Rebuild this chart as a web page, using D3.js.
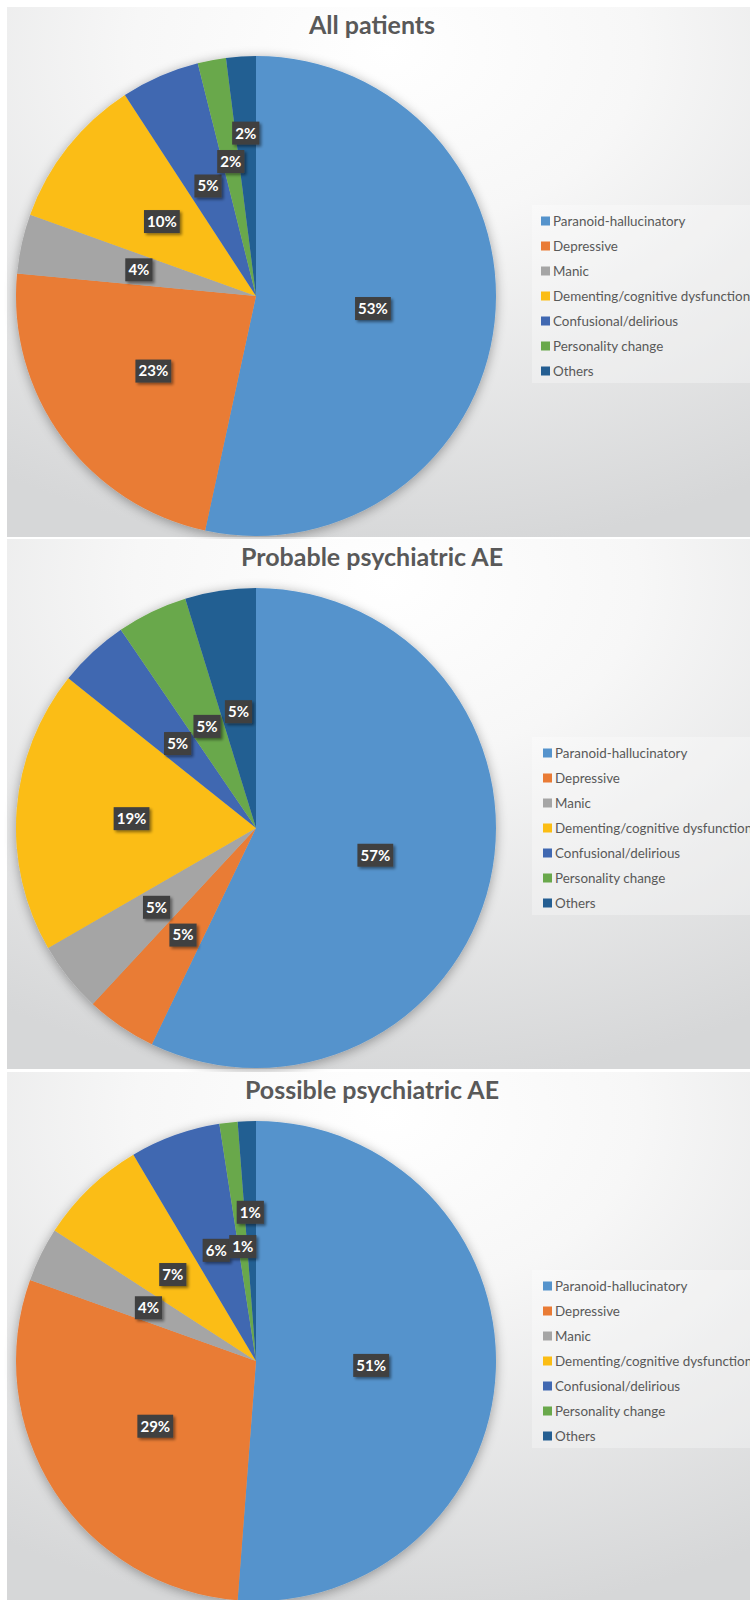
<!DOCTYPE html>
<html><head><meta charset="utf-8">
<script src="https://cdn.jsdelivr.net/npm/d3@7"></script>
<style>body{margin:0;background:#fff}</style>
</head><body>
<svg id="chart" width="750" height="1600"></svg>
<script>
// ---- data ----
const categories = ["Paranoid-hallucinatory","Depressive","Manic","Dementing/cognitive dysfunction","Confusional/delirious","Personality change","Others"];
const titles = ["All patients","Probable psychiatric AE","Possible psychiatric AE"];
const allPatients = [53.4, 23.1, 4.0, 10.3, 5.3, 1.9, 2.0];
const probableAE = [12, 1, 1, 4, 1, 1, 1];
const possibleAE = [42, 24, 3, 6, 5, 1, 1];
const seriesList = [allPatients, probableAE, possibleAE];

// ---- styling / layout ----
const colors = ["#5593cc","#e97b35","#a5a5a5","#fbbd14","#4068b1","#69a84b","#245e92"];
const panelTops = [7, 539, 1072];
const panelH = 530;
const legendX = [541, 543, 543];
const labelRadiusFrac = [
  [0.49, 0.53, 0.5, 0.5, 0.5, 0.57, 0.68],
  [0.51, 0.54, 0.53, 0.52, 0.48, 0.47, 0.49],
  [0.48, 0.5, 0.5, 0.5, 0.49, 0.48, 0.62]
];

const svg = d3.select("#chart");
const defs = svg.append("defs");
const grad = defs.append("radialGradient").attr("id","bg")
  .attr("cx",0.5).attr("cy",0.08).attr("r",0.95).attr("fx",0.5).attr("fy",0.08);
grad.append("stop").attr("offset","0%").attr("stop-color","#ffffff");
grad.append("stop").attr("offset","35%").attr("stop-color","#f7f7f7");
grad.append("stop").attr("offset","100%").attr("stop-color","#d6d7d8");

const sh = defs.append("filter").attr("id","pieShadow").attr("x","-20%").attr("y","-20%").attr("width","140%").attr("height","140%");
sh.append("feGaussianBlur").attr("in","SourceAlpha").attr("stdDeviation",6).attr("result","b");
sh.append("feOffset").attr("in","b").attr("dx",0).attr("dy",2).attr("result","o");
sh.append("feComponentTransfer").attr("in","o").attr("result","s")
  .append("feFuncA").attr("type","linear").attr("slope",0.35);
const m1 = sh.append("feMerge");
m1.append("feMergeNode").attr("in","s");
m1.append("feMergeNode").attr("in","SourceGraphic");

const ls = defs.append("filter").attr("id","lblShadow").attr("x","-30%").attr("y","-30%").attr("width","160%").attr("height","160%");
ls.append("feGaussianBlur").attr("in","SourceAlpha").attr("stdDeviation",1.5).attr("result","b");
ls.append("feOffset").attr("in","b").attr("dx",2).attr("dy",2).attr("result","o");
ls.append("feComponentTransfer").attr("in","o").attr("result","s")
  .append("feFuncA").attr("type","linear").attr("slope",0.45);
const m2 = ls.append("feMerge");
m2.append("feMergeNode").attr("in","s");
m2.append("feMergeNode").attr("in","SourceGraphic");

const R = 240, cxPie = 256, cyOff = 289;
const pie = d3.pie().sort(null).startAngle(0).endAngle(2*Math.PI).value(d => d);
const arc = d3.arc().innerRadius(0).outerRadius(R);

seriesList.forEach((vals, pi) => {
  const top = panelTops[pi];
  const g = svg.append("g");
  g.append("rect").attr("x",7).attr("y",top).attr("width",760).attr("height",panelH).attr("fill","url(#bg)");
  g.append("text").attr("x",372).attr("y",top+27).attr("text-anchor","middle")
    .attr("font-family","Lato, 'Open Sans', sans-serif").attr("font-weight","bold")
    .attr("font-size",25).attr("fill","#595959").text(titles[pi]);

  const total = d3.sum(vals);
  const arcs = pie(vals);
  const pg = g.append("g").attr("transform",`translate(${cxPie},${top+cyOff})`);
  pg.append("g").attr("filter","url(#pieShadow)").selectAll("path").data(arcs).join("path")
    .attr("d",arc).attr("fill",(d,i)=>colors[i]);

  arcs.forEach((a,i) => {
    const lr = R*labelRadiusFrac[pi][i];
    const c = d3.arc().innerRadius(lr).outerRadius(lr).centroid(a);
    const txt = Math.round(a.data/total*100) + "%";
    const lg = pg.append("g").attr("transform",`translate(${c[0]},${c[1]})`);
    const w = txt.length*8.6 + 10;
    lg.append("rect").attr("x",-w/2).attr("y",-11.5).attr("width",w).attr("height",23)
      .attr("fill","#404040").attr("filter","url(#lblShadow)");
    lg.append("text").attr("text-anchor","middle").attr("dy","0.36em")
      .attr("font-family","Lato, sans-serif").attr("font-weight","bold").attr("font-size",15)
      .attr("fill","#ffffff").text(txt);
  });

  // legend
  const lgx = legendX[pi], lgy = top + 214;
  g.append("rect").attr("x",532).attr("y",top+198).attr("width",230).attr("height",178)
    .attr("fill","#ffffff").attr("opacity",0.3);
  categories.forEach((c,i) => {
    const y = lgy + i*25;
    g.append("rect").attr("x",lgx).attr("y",y-4.5).attr("width",9).attr("height",9).attr("fill",colors[i]);
    g.append("text").attr("x",lgx+12).attr("y",y).attr("dy","0.35em")
      .attr("font-family","Lato, sans-serif").attr("font-size",13.4).attr("fill","#595959").text(c);
  });
});
</script>
</body></html>
